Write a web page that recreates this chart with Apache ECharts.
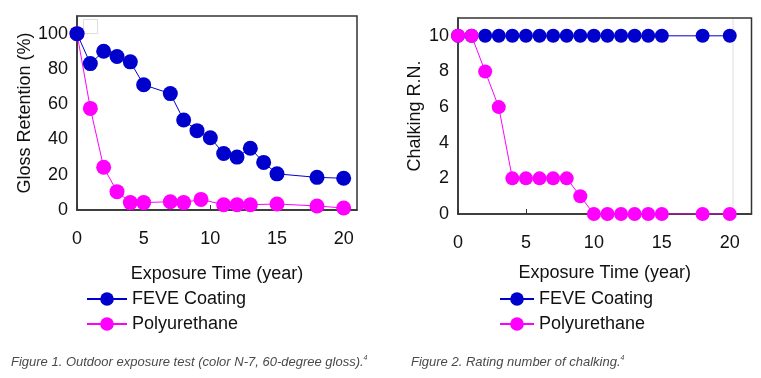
<!DOCTYPE html>
<html>
<head>
<meta charset="utf-8">
<script src="https://cdn.jsdelivr.net/npm/echarts@6/dist/echarts.min.js"></script>
<style>
html,body{margin:0;padding:0;background:#fff;}
#c{width:761px;height:378px;}
</style>
</head>
<body>
<div id="c"></div>
<script>
// Figure 1: gloss retention (%)
var glossYearsFEVE = [0,1,2,3,4,5,7,8,9,10,11,12,13,14,15,18,20];
var glossFEVE      = [100,83,90,87,84,71,66,51,45,41,32,30,35,27,20.5,18.5,18];
var glossYearsPU   = [0,1,2,3,4,5,7,8,9.3,11,12,13,15,18,20];
var glossPU        = [100,57.6,24.2,10.4,4.2,4.2,4.7,4.2,6,3,3,3,3.4,2.3,1.1];

// Figure 2: chalking rating number
var chalkYears = [0,1,2,3,4,5,6,7,8,9,10,11,12,13,14,15,18,20];
var chalkFEVE  = [10,10,10,10,10,10,10,10,10,10,10,10,10,10,10,10,10,10];
var chalkPU    = [10,10,8,6,2,2,2,2,2,1,0,0,0,0,0,0,0,0];

var xTicks1 = [0,5,10,15,20];
var yTicks1 = [0,20,40,60,80,100];
var yTicks2 = [0,2,4,6,8,10];

var seriesNames = ['FEVE Coating','Polyurethane'];
var colFEVE = '#0000CC', colPU = '#FF00FF';
var FONT = 'Liberation Sans, Arial, sans-serif';

function pairs(xs, ys){ return xs.map(function(x,i){ return [x, ys[i]]; }); }

var chart = echarts.init(document.getElementById('c'), null, {renderer:'canvas'});

var axisLabelStyle = {fontFamily: FONT, fontSize: 18, color: '#111'};
function xAxis(gridIndex, max, gap){
  return {
    type:'value', gridIndex:gridIndex, min:0, max:max, interval:5,
    name:'Exposure Time (year)', nameLocation:'middle', nameGap:gap,
    nameTextStyle:{fontFamily:FONT, fontSize:18, color:'#111'},
    axisLine:{show:true, onZero:false, lineStyle:{color:'#333', width:1.5}},
    axisTick:{show:true, inside:true, length:5, lineStyle:{color:'#333'}},
    axisLabel:Object.assign({margin:20, showMaxLabel:false, formatter:function(v){return xTicks1.indexOf(v)>=0? String(v):'';}}, axisLabelStyle),
    splitLine:{show:false}
  };
}
function yAxis(gridIndex, max, interval, name, gap, ticks){
  return {
    type:'value', gridIndex:gridIndex, min:0, max:max, interval:interval,
    name:name, nameLocation:'middle', nameGap:gap, nameRotate:90,
    nameTextStyle:{fontFamily:FONT, fontSize:18, color:'#111'},
    axisLine:{show:true, lineStyle:{color:'#333', width:1.5}},
    axisTick:{show:false},
    axisLabel:Object.assign({margin:9, showMaxLabel:false, formatter:function(v){return ticks.indexOf(v)>=0? String(v):'';}}, axisLabelStyle),
    splitLine:{show:false}
  };
}

function lineSeries(name, xi, yi, data, color, size){
  return {
    name:name, type:'line', xAxisIndex:xi, yAxisIndex:yi, data:data,
    symbol:'circle', symbolSize:size, showSymbol:true,
    lineStyle:{color:color, width:1},
    itemStyle:{color:color},
    emphasis:{disabled:true}, animation:false
  };
}

var capRich = {
  t:{fontFamily:FONT, fontSize:13, fontStyle:'italic', fontWeight:'normal', color:'#4a4a4a'},
  s:{fontFamily:FONT, fontSize:7, fontStyle:'italic', fontWeight:'normal', color:'#4a4a4a', verticalAlign:'top', padding:[0,0,7,0]}
};

var option = {
  animation:false,
  grid:[
    {left:77, top:16, width:280, height:194, show:true, borderColor:'#333', borderWidth:1.5, backgroundColor:'transparent'},
    {left:458, top:18, width:293.5, height:196, show:true, borderColor:'#333', borderWidth:1.5, backgroundColor:'transparent'}
  ],
  xAxis:[ xAxis(0, 21, 55), xAxis(1, 21.6, 50) ],
  yAxis:[
    yAxis(0, 110, 20, 'Gloss Retention (%)', 42, yTicks1),
    yAxis(1, 11, 2, 'Chalking R.N.', 34, yTicks2)
  ],
  legend:[
    {data:seriesNames, orient:'vertical', left:81, top:285, itemWidth:40, itemHeight:17, itemGap:7,
     textStyle:{fontFamily:FONT, fontSize:18, color:'#111'}, selectedMode:false},
    {data:seriesNames, orient:'vertical', left:494, top:285, itemWidth:34, itemHeight:17, itemGap:7,
     textStyle:{fontFamily:FONT, fontSize:18, color:'#111'}, selectedMode:false}
  ],
  title:[
    {left:6, top:350, text:'{t|Figure 1. Outdoor exposure test (color N-7, 60-degree gloss).}{s|4}',
     textStyle:{rich:capRich}},
    {left:406, top:350, text:'{t|Figure 2. Rating number of chalking.}{s|4}',
     textStyle:{rich:capRich}}
  ],
  graphic:[
    {type:'rect', left:81, top:17, shape:{width:14, height:14}, style:{fill:'none', stroke:'#ddd', lineWidth:1}, silent:true},
    {type:'line', shape:{x1:733, y1:19, x2:733, y2:213}, style:{stroke:'#ddd', lineWidth:1}, silent:true}
  ],
  series:[
    lineSeries('Polyurethane', 0, 0, pairs(glossYearsPU, glossPU), colPU, 15),
    lineSeries('FEVE Coating', 0, 0, pairs(glossYearsFEVE, glossFEVE), colFEVE, 15),
    lineSeries('FEVE Coating', 1, 1, pairs(chalkYears, chalkFEVE), colFEVE, 14),
    lineSeries('Polyurethane', 1, 1, pairs(chalkYears, chalkPU), colPU, 14)
  ]
};
chart.setOption(option);
</script>
</body>
</html>
